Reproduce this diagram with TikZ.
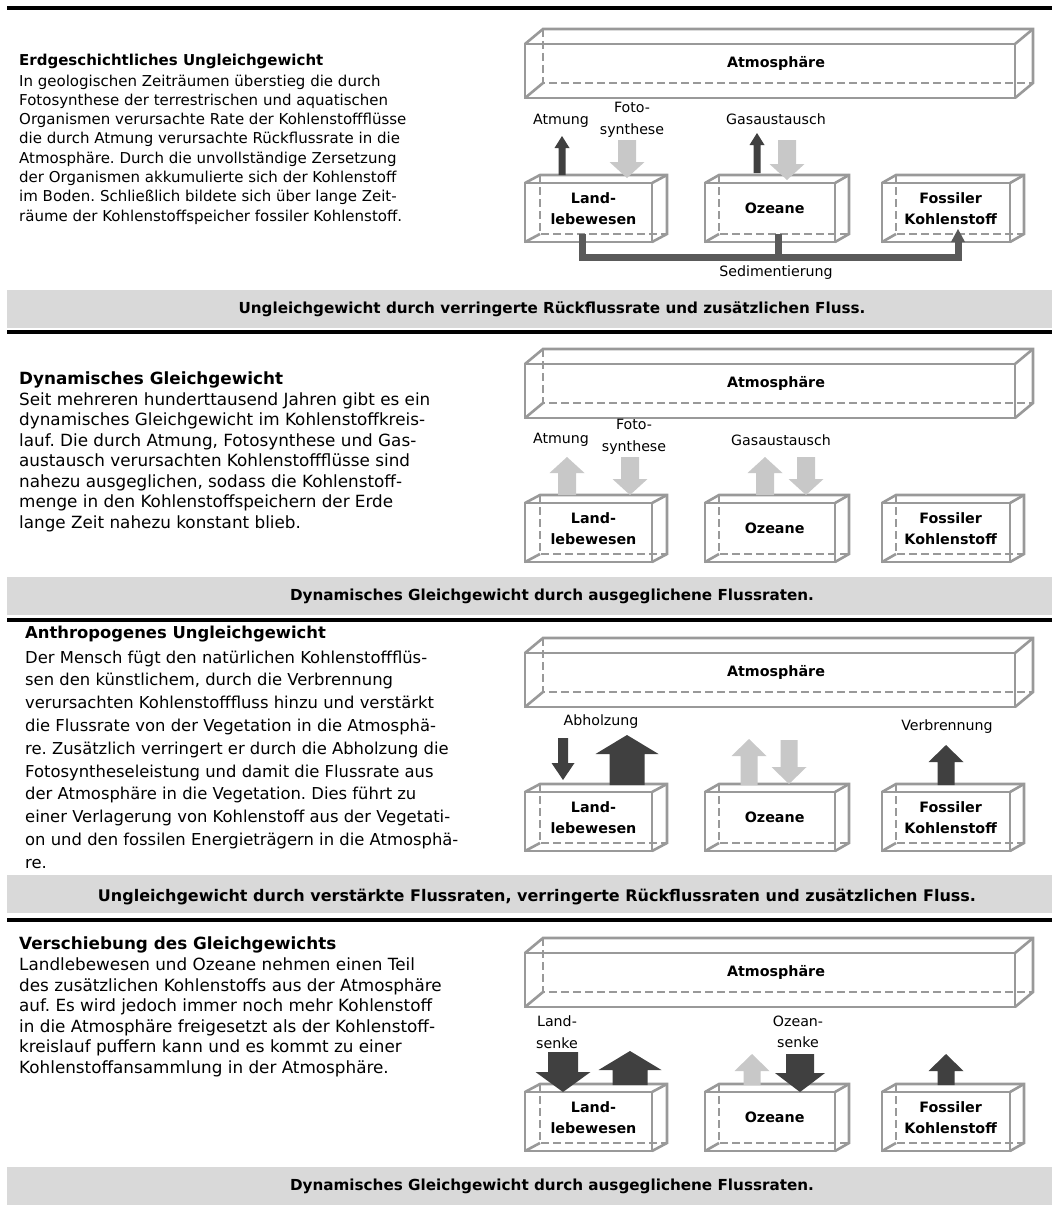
\documentclass[tikz,border=0pt]{standalone}
\usepackage{fontspec}
\setmainfont{DejaVu Sans}
\usetikzlibrary{calc}
\frenchspacing
\definecolor{boxgrey}{HTML}{999999}
\definecolor{lightarr}{HTML}{C8C8C8}
\definecolor{darkarr}{HTML}{404040}
\definecolor{sedcol}{HTML}{5A5A5A}
\definecolor{barfill}{HTML}{D9D9D9}
\tikzset{
  boxline/.style={draw=boxgrey,line width=2.6pt,line join=miter},
  boxdash/.style={draw=boxgrey,line width=2.6pt,dash pattern=on 8pt off 4pt},
  boxlabel/.style={font=\fontsize{14.3}{21.5}\selectfont\bfseries,align=center,inner sep=0pt},
  flowlabel/.style={font=\fontsize{14.2}{21.5}\selectfont,align=center,inner sep=0pt},
  bodytext/.style={align=left,inner sep=0pt,anchor=north west},
  bartext/.style={font=\fontsize{#1}{18}\selectfont\bfseries,inner sep=0pt},
  blackrule/.style={draw=black,line width=3.4pt},
  greybar/.style={fill=barfill,draw=none},
  sedline/.style={draw=sedcol,line width=7pt,line join=miter}
}
% cuboid: name, x1, y1, x2, y2 (front face), dx, dy (depth), label
\newcommand{\ccube}[8]{%
  \draw[boxdash] ($(#2,#3)+(#6,-#7)$) -- ($(#2,#5)+(#6,-#7)$) -- ($(#4,#5)+(#6,-#7)$);
  \draw[boxline] (#2,#3) rectangle (#4,#5);
  \draw[boxline] (#2,#3) -- ($(#2,#3)+(#6,-#7)$) -- ($(#4,#3)+(#6,-#7)$) -- ($(#4,#5)+(#6,-#7)$) -- (#4,#5);
  \draw[boxline] (#4,#3) -- ($(#4,#3)+(#6,-#7)$);
  \draw[boxline] (#2,#5) -- ($(#2,#5)+(#6,-#7)$);
  \node[boxlabel] (#1) at ($(#2,#3)!0.5!(#4,#5)+(#6/3,-#7/2)$) {#8};
}
% block arrow up: style, x, ytip, ybase, shaft width, head width, head length
\newcommand{\blockup}[7]{%
  \pgfmathsetmacro{\hhw}{#6/2}\pgfmathsetmacro{\shw}{#5/2}\pgfmathsetmacro{\hby}{#3+#7}%
  \fill[#1] (#2,#3) -- ({#2+\hhw},\hby) -- ({#2+\shw},\hby) -- ({#2+\shw},#4) -- ({#2-\shw},#4) -- ({#2-\shw},\hby) -- ({#2-\hhw},\hby) -- cycle;}
% block arrow down: style, x, ytip, ytop, shaft width, head width, head length
\newcommand{\blockdown}[7]{%
  \pgfmathsetmacro{\hhw}{#6/2}\pgfmathsetmacro{\shw}{#5/2}\pgfmathsetmacro{\hby}{#3-#7}%
  \fill[#1] (#2,#3) -- ({#2+\hhw},\hby) -- ({#2+\shw},\hby) -- ({#2+\shw},#4) -- ({#2-\shw},#4) -- ({#2-\shw},\hby) -- ({#2-\hhw},\hby) -- cycle;}
% full panel of reservoirs, given y offset
\newcommand{\reservoirs}[2]{%
  \ccube{atm#1}{525}{44+#2}{1015}{98+#2}{18}{15}{Atmosphäre}
  \ccube{land#1}{525}{183+#2}{652}{242+#2}{15}{8}{Land-\\lebewesen}
  \ccube{ocean#1}{705}{183+#2}{835}{242+#2}{14}{8}{Ozeane}
  \ccube{fossil#1}{882}{183+#2}{1010}{242+#2}{14}{8}{Fossiler\\Kohlenstoff}
}
\begin{document}
\begin{tikzpicture}[x=1pt,y=-1pt]
\useasboundingbox (0,0) rectangle (1056,1215);
\fill[white] (0,0) rectangle (1056,1215);

% ---------- rules and bars ----------
\draw[blackrule] (7,8) -- (1052,8);
\fill[greybar] (7,290) rectangle (1052,328);
\node[bartext=15.2] (bar1) at (552,309) {Ungleichgewicht durch verringerte Rückflussrate und zusätzlichen Fluss.};
\draw[blackrule] (7,332) -- (1052,332);
\fill[greybar] (7,577) rectangle (1052,615);
\node[bartext=15.2] (bar2) at (552,596) {Dynamisches Gleichgewicht durch ausgeglichene Flussraten.};
\draw[blackrule] (7,620) -- (1052,620);
\fill[greybar] (7,875) rectangle (1052,913);
\node[bartext=16] (bar3) at (537,897) {Ungleichgewicht durch verstärkte Flussraten, verringerte Rückflussraten und zusätzlichen Fluss.};
\draw[blackrule] (7,920) -- (1052,920);
\fill[greybar] (7,1167) rectangle (1052,1205);
\node[bartext=15.2] (bar4) at (552,1186) {Dynamisches Gleichgewicht durch ausgeglichene Flussraten.};

% ---------- texts ----------
\node[bodytext,font=\fontsize{15}{19.3}\selectfont] (txt1) at (19,53.5) {\textbf{Erdgeschichtliches Ungleichgewicht}\\[1.7pt]
In geologischen Zeiträumen überstieg die durch\\
Fotosynthese der terrestrischen und aquatischen\\
Organismen verursachte Rate der Kohlenstoffflüsse\\
die durch Atmung verursachte Rückflussrate in die\\
Atmosphäre. Durch die unvollständige Zersetzung\\
der Organismen akkumulierte sich der Kohlenstoff\\
im Boden. Schließlich bildete sich über lange Zeit-\\
räume der Kohlenstoffspeicher fossiler Kohlenstoff.};

\node[bodytext,font=\fontsize{16.8}{20.5}\selectfont] (txt2) at (19,372) {\textbf{Dynamisches Gleichgewicht}\\
Seit mehreren hunderttausend Jahren gibt es ein\\
dynamisches Gleichgewicht im Kohlenstoffkreis-\\
lauf. Die durch Atmung, Fotosynthese und Gas-\\
austausch verursachten Kohlenstoffflüsse sind\\
nahezu ausgeglichen, sodass die Kohlenstoff-\\
menge in den Kohlenstoffspeichern der Erde\\
lange Zeit nahezu konstant blieb.};

\node[bodytext,font=\fontsize{16.4}{22.8}\selectfont] (txt3) at (25,625.5) {\textbf{Anthropogenes Ungleichgewicht}\\[2.2pt]
Der Mensch fügt den natürlichen Kohlenstoffflüs-\\
sen den künstlichem, durch die Verbrennung\\
verursachten Kohlenstofffluss hinzu und verstärkt\\
die Flussrate von der Vegetation in die Atmosphä-\\
re. Zusätzlich verringert er durch die Abholzung die\\
Fotosyntheseleistung und damit die Flussrate aus\\
der Atmosphäre in die Vegetation. Dies führt zu\\
einer Verlagerung von Kohlenstoff aus der Vegetati-\\
on und den fossilen Energieträgern in die Atmosphä-\\
re.};

\node[bodytext,font=\fontsize{16.8}{20.6}\selectfont] (txt4) at (19,937) {\textbf{Verschiebung des Gleichgewichts}\\
Landlebewesen und Ozeane nehmen einen Teil\\
des zusätzlichen Kohlenstoffs aus der Atmosphäre\\
auf. Es wird jedoch immer noch mehr Kohlenstoff\\
in die Atmosphäre freigesetzt als der Kohlenstoff-\\
kreislauf puffern kann und es kommt zu einer\\
Kohlenstoffansammlung in der Atmosphäre.};

% ---------- panel 1 ----------
\reservoirs{a}{0}
\draw[sedline] (582,234) -- (582,257) -- (958,257) -- (958,241);
\draw[sedline] (778,234) -- (778,257);
\fill[sedcol] (958,229) -- (965,242) -- (951,242) -- cycle;
\node[flowlabel] (seda) at (776,273) {Sedimentierung};
\blockup{darkarr}{562}{136}{175}{7}{15}{12}
\blockdown{lightarr}{627}{178}{140}{18}{35}{16}
\blockup{darkarr}{757}{133}{173}{7}{15}{12}
\blockdown{lightarr}{787}{180}{140}{18}{35}{16}
\node[flowlabel] (atma) at (561,121) {Atmung};
\node[flowlabel] (fotoa) at (632,120) {Foto-\\synthese};
\node[flowlabel] (gasa) at (776,119) {Gasaustausch};

% ---------- panel 2 ----------
\reservoirs{b}{320}
\blockup{lightarr}{567}{457}{495}{18}{35}{16}
\blockdown{lightarr}{630}{495}{457}{18}{35}{16}
\blockup{lightarr}{765}{457}{495}{18}{35}{16}
\blockdown{lightarr}{806}{495}{457}{18}{35}{16}
\node[flowlabel] (atmb) at (561,440) {Atmung};
\node[flowlabel] (fotob) at (634,437) {Foto-\\synthese};
\node[flowlabel] (gasb) at (781,440) {Gasaustausch};

% ---------- panel 3 ----------
\reservoirs{c}{609}
\blockdown{darkarr}{563}{780}{738}{10}{23}{17}
\blockup{darkarr}{627}{735}{785}{35}{63}{19}
\blockup{lightarr}{749}{739}{785}{17}{35}{17}
\blockdown{lightarr}{789}{784}{740}{17}{35}{17}
\blockup{darkarr}{946}{745}{785}{17}{35}{17}
\node[flowlabel] (abhc) at (601,722) {Abholzung};
\node[flowlabel] (verc) at (947,727) {Verbrennung};

% ---------- panel 4 ----------
\reservoirs{d}{909}
\blockdown{darkarr}{563}{1092}{1052}{30}{55}{20}
\blockup{darkarr}{630}{1051}{1085}{35}{63}{19}
\blockup{lightarr}{752}{1054}{1085}{17}{35}{17}
\blockdown{darkarr}{800}{1092}{1054}{28}{50}{19}
\blockup{darkarr}{946}{1054}{1085}{17}{35}{17}
\node[flowlabel] (landd) at (557,1032) {Land-\\senke};
\node[flowlabel] (oced) at (798,1032) {Ozean-\\senke};
\end{tikzpicture}
\end{document}
